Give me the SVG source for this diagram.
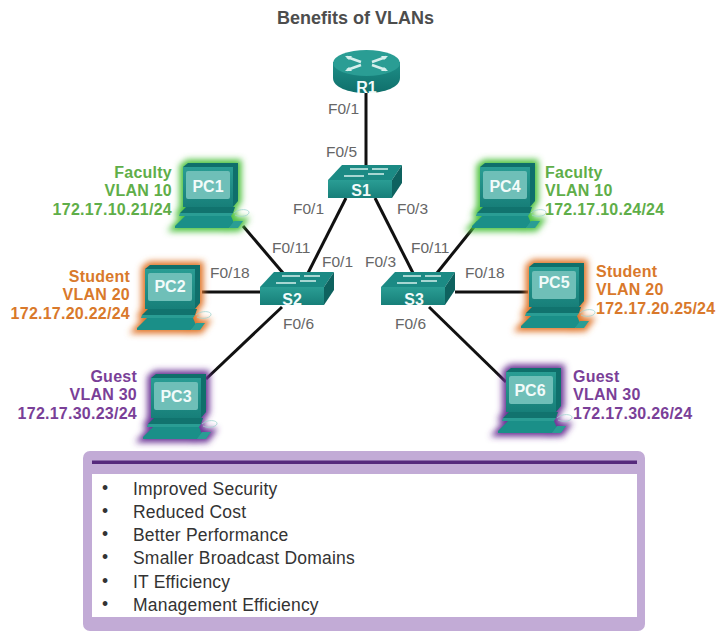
<svg xmlns="http://www.w3.org/2000/svg" width="717" height="632" viewBox="0 0 717 632">
<style>
text{font-family:"Liberation Sans",Arial,sans-serif}
.t{font-size:18px;font-weight:bold;fill:#4d4d4d;text-anchor:middle}
.p{font-size:15.500px;fill:#666}
.l{font-size:16px;font-weight:bold;text-anchor:end;letter-spacing:.25px}
.s{text-anchor:start}
.g{fill:#5fae49}.o{fill:#d9792b}.v{fill:#7a3f98}
.n{font-size:16px;font-weight:bold;fill:#f2fbfa;text-anchor:middle}
.b{font-size:17.500px;fill:#333;letter-spacing:.2px}
.c{stroke:#111;stroke-width:3;fill:none}
</style>
<defs>
<linearGradient id="tg" x1="0" y1="0" x2="0" y2="1"><stop offset="0" stop-color="#1f8f88"/><stop offset="1" stop-color="#0f6f6b"/></linearGradient>
<linearGradient id="fg" x1="0" y1="0" x2="0" y2="1"><stop offset="0" stop-color="#2a9d94"/><stop offset="1" stop-color="#177f79"/></linearGradient>
<filter id="glow" x="-30%" y="-30%" width="160%" height="160%"><feGaussianBlur stdDeviation="3"/></filter>
<g id="pcshape">
<path d="M0,4 L5,0 L55,0 L55,38 L50,44 L50,50 L-3,50 L0,44Z"/><path d="M-8,65 L3,52 L48,52 L51,60 L46,65Z"/><path d="M46,65 L51,58 L60,58 L55,65Z"/>
</g>
<g id="pc">
<path d="M0,4 L5,0 L55,0 L55,38 L50,44 L0,44Z" fill="#0f6f6b"/>
<rect x="0" y="4" width="50" height="40" fill="url(#fg)"/>
<rect x="3" y="8" width="44" height="28" rx="2" fill="#6fbfb8"/>
<path d="M3,44 L52,44 L50,50 L-3,50Z" fill="#11736e"/>
<path d="M-3,50 L50,50 L48,53 L-4,53Z" fill="#2a9d94"/>
<path d="M2,53 L48,53 L51,60 L46,65 L-8,65 L-8,63Z" fill="#1a8f88"/>
<path d="M46,65 L51,58 L60,58 L55,65Z" fill="#2a9d94"/>
<path d="M51,50 C56,45 67,46 66,50 C64,54 56,54 52,52" fill="none" stroke="#9fd4d0" stroke-width=".8"/>
</g>
<g id="sw">
<path d="M14,0 L74,0 L64,15 L0,15Z" fill="#1b8a84"/>
<path d="M64,15 L74,0 L74,18 L64,33Z" fill="#0e625f"/>
<rect x="0" y="15" width="64" height="18" fill="url(#fg)"/>
<path d="M22,4 H40 M44,4 H60 M16,11 H36 M40,9 H56" stroke="#d5efec" stroke-width="1.500" fill="none"/>
</g>
</defs>

<text class="t" x="355.500" y="24">Benefits of VLANs</text>

<g id="connectors">
<path class="c" d="M366,90 V166"/>
<path class="c" d="M346,198 L308,273"/>
<path class="c" d="M375,198 L413,273"/>
<path class="c" d="M243,226 L283,273"/>
<path class="c" d="M202,292 H261"/>
<path class="c" d="M206,379 L282,307"/>
<path class="c" d="M478,222 L437,273"/>
<path class="c" d="M455,292 H528"/>
<path class="c" d="M506,382 L429,307"/>
</g>

<g id="port-labels">
<text class="p" x="328" y="114">F0/1</text>
<text class="p" x="326" y="157">F0/5</text>
<text class="p" x="293" y="214">F0/1</text>
<text class="p" x="397" y="214">F0/3</text>
<text class="p" x="272" y="253">F0/11</text>
<text class="p" x="322" y="267">F0/1</text>
<text class="p" x="365" y="267">F0/3</text>
<text class="p" x="411" y="253">F0/11</text>
<text class="p" x="210" y="278">F0/18</text>
<text class="p" x="465" y="278">F0/18</text>
<text class="p" x="283" y="329">F0/6</text>
<text class="p" x="395" y="329">F0/6</text>
</g>

<g id="R1">
<path d="M333,62 V78 C333,87 348,93 366.500,93 C385,93 400,87 400,78 V62Z" fill="url(#tg)"/>
<ellipse cx="366.500" cy="63" rx="33.500" ry="13" fill="#2a9d94"/>
<path d="M347,57 L361,62 M386,57 L372,62 M347,70 L361,65 M386,70 L372,65" stroke="#d5efec" stroke-width="2.500" fill="none"/>
<path d="M345,56 L352,56 L349,60Z M388,56 L381,56 L384,60Z M345,71 L349,67 L352,71Z M388,71 L384,67 L381,71Z" fill="#d5efec"/>
<text class="n" x="366.500" y="93">R1</text>
</g>
<g id="S1"><use href="#sw" x="328" y="165"/><text class="n" x="361" y="196">S1</text></g>
<g id="S2"><use href="#sw" x="260" y="272"/><text class="n" x="292" y="305">S2</text></g>
<g id="S3"><use href="#sw" x="381" y="272"/><text class="n" x="414" y="305">S3</text></g>

<g id="PC1"><use href="#pcshape" x="183" y="163" fill="#4fc23f" stroke="#4fc23f" stroke-width="7" filter="url(#glow)"/><use href="#pc" x="183" y="163"/><text class="n" x="208" y="192">PC1</text></g>
<g id="PC2"><use href="#pcshape" x="145" y="265" fill="#e0762a" stroke="#e0762a" stroke-width="7" filter="url(#glow)"/><use href="#pc" x="145" y="265"/><text class="n" x="170" y="292">PC2</text></g>
<g id="PC3"><use href="#pcshape" x="151" y="374" fill="#6b3294" stroke="#6b3294" stroke-width="7" filter="url(#glow)"/><use href="#pc" x="151" y="374"/><text class="n" x="176" y="402">PC3</text></g>
<g id="PC4"><use href="#pcshape" x="480" y="163" fill="#4fc23f" stroke="#4fc23f" stroke-width="7" filter="url(#glow)"/><use href="#pc" x="480" y="163"/><text class="n" x="505" y="192">PC4</text></g>
<g id="PC5"><use href="#pcshape" x="529" y="263" fill="#e0762a" stroke="#e0762a" stroke-width="7" filter="url(#glow)"/><use href="#pc" x="529" y="263"/><text class="n" x="554" y="288">PC5</text></g>
<g id="PC6"><use href="#pcshape" x="506" y="368" fill="#6b3294" stroke="#6b3294" stroke-width="7" filter="url(#glow)"/><use href="#pc" x="506" y="368"/><text class="n" x="530" y="396">PC6</text></g>

<g id="pc-labels">
<g class="l g"><text x="172" y="178">Faculty</text><text x="172" y="196">VLAN 10</text><text x="172" y="215">172.17.10.21/24</text></g>
<g class="l o"><text x="130" y="282">Student</text><text x="130" y="300">VLAN 20</text><text x="130" y="319">172.17.20.22/24</text></g>
<g class="l v"><text x="137" y="382">Guest</text><text x="137" y="400">VLAN 30</text><text x="137" y="419">172.17.30.23/24</text></g>
<g class="l s g"><text x="545" y="178">Faculty</text><text x="545" y="196">VLAN 10</text><text x="545" y="215">172.17.10.24/24</text></g>
<g class="l s o"><text x="596" y="277">Student</text><text x="596" y="295">VLAN 20</text><text x="596" y="314">172.17.20.25/24</text></g>
<g class="l s v"><text x="573" y="382">Guest</text><text x="573" y="400">VLAN 30</text><text x="573" y="419">172.17.30.26/24</text></g>
</g>

<g id="benefits">
<rect x="83" y="451" width="562" height="180" rx="7" fill="#c2abd6"/>
<rect x="92" y="460.500" width="545" height="3.500" fill="#55297c"/>
<rect x="92" y="474" width="545" height="143" fill="#fff"/>
<g class="b">
<text x="102" y="494">•</text><text x="133" y="495">Improved Security</text>
<text x="102" y="517">•</text><text x="133" y="518">Reduced Cost</text>
<text x="102" y="540">•</text><text x="133" y="541">Better Performance</text>
<text x="102" y="563">•</text><text x="133" y="564">Smaller Broadcast Domains</text>
<text x="102" y="587">•</text><text x="133" y="588">IT Efficiency</text>
<text x="102" y="610">•</text><text x="133" y="611">Management Efficiency</text>
</g>
</g>
</svg>
